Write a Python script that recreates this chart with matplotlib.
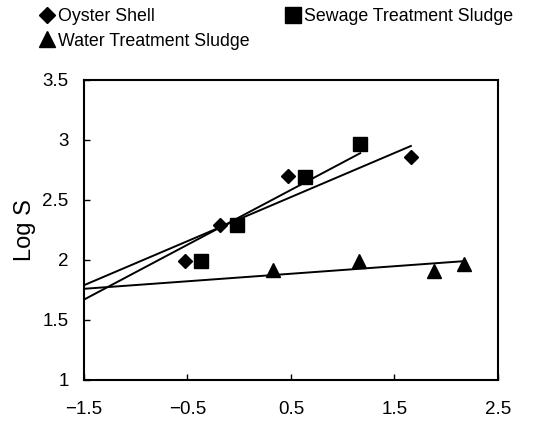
import matplotlib
matplotlib.use("Agg")
import matplotlib.pyplot as plt
from matplotlib.lines import Line2D

plt.rcParams['font.family'] = ['Liberation Sans', 'DejaVu Sans']
plt.rcParams['axes.unicode_minus'] = True

# data
oyster_x = [-0.52, -0.19, 0.47, 1.66]
oyster_y = [1.99, 2.29, 2.70, 2.86]
sewage_x = [-0.37, -0.02, 0.64, 1.17]
sewage_y = [1.99, 2.29, 2.69, 2.97]
water_x = [0.33, 1.16, 1.88, 2.17]
water_y = [1.92, 1.99, 1.91, 1.97]

# trend lines (endpoints)
oyster_fit_x = [-1.5, 1.66]
oyster_fit_y = [1.79, 2.95]
sewage_fit_x = [-1.5, 1.17]
sewage_fit_y = [1.67, 2.89]
water_fit_x = [-1.5, 2.17]
water_fit_y = [1.76, 1.99]

xticks = [-1.5, -0.5, 0.5, 1.5, 2.5]
xtick_labels = ['\u22121.5', '\u22120.5', '0.5', '1.5', '2.5']
yticks = [1, 1.5, 2, 2.5, 3, 3.5]
ytick_labels = ['1', '1.5', '2', '2.5', '3', '3.5']

fig = plt.figure(figsize=(5.47, 4.21), dpi=100)
ax = fig.add_axes([0.1536, 0.0974, 0.7564, 0.7126])

ax.plot(oyster_fit_x, oyster_fit_y, color='black', lw=1.4)
ax.plot(sewage_fit_x, sewage_fit_y, color='black', lw=1.4)
ax.plot(water_fit_x, water_fit_y, color='black', lw=1.4)

ax.plot(oyster_x, oyster_y, 'D', color='black', ms=7, ls='none')
ax.plot(sewage_x, sewage_y, 's', color='black', ms=9.5, ls='none')
ax.plot(water_x, water_y, '^', color='black', ms=10.5, ls='none')

ax.set_xlim(-1.5, 2.5)
ax.set_ylim(1, 3.5)
ax.set_xticks(xticks)
ax.set_xticklabels(xtick_labels)
ax.set_yticks(yticks)
ax.set_yticklabels(ytick_labels)
ax.tick_params(direction='in', length=4, width=1, labelsize=13.5)
ax.tick_params(axis='x', pad=15)
ax.tick_params(axis='y', pad=11)
for s in ax.spines.values():
    s.set_linewidth(1.5)
ax.set_ylabel('Log S', fontsize=17, labelpad=5)

handles = [
    Line2D([], [], marker='D', color='black', ls='none', ms=8),
    Line2D([], [], marker='^', color='black', ls='none', ms=11),
    Line2D([], [], marker='s', color='black', ms=11, ls='none'),
]
labels = ['Oyster Shell', 'Water Treatment Sludge', 'Sewage Treatment Sludge']
fig.legend(handles, labels, loc='upper left', bbox_to_anchor=(0.05, 1.01), ncol=2,
           frameon=False, fontsize=12.8, handlelength=0.8, handletextpad=0.25,
           columnspacing=2.0, labelspacing=0.42, borderpad=0.2)

fig.savefig('out.png', dpi=100)
